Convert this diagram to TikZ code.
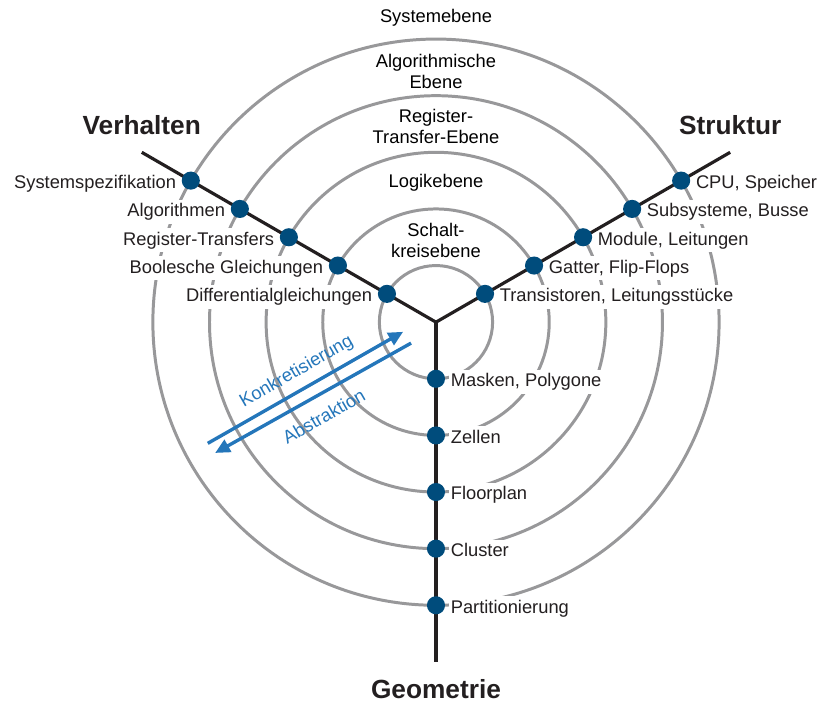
\documentclass[tikz,border=0pt]{standalone}
\usepackage{fontspec}
\setmainfont{Liberation Sans}
\usetikzlibrary{arrows.meta,positioning}
\definecolor{ringgray}{RGB}{152,152,154}
\definecolor{axisblack}{RGB}{35,31,32}
\definecolor{dotblue}{RGB}{0,76,124}
\definecolor{flowblue}{RGB}{36,118,186}

\begin{document}
\begin{tikzpicture}[
  font=\fontsize{9.2}{10.6}\selectfont,
  ring/.style={draw=ringgray, line width=1.5pt},
  axisline/.style={draw=axisblack, line width=1.6pt, line join=miter},
  level/.style={align=center, inner sep=0pt},
  view/.style={font=\fontsize{13.2}{15}\selectfont\bfseries, text=axisblack, inner sep=0pt},
  lab/.style={fill=white, inner sep=1pt, text=axisblack, text height=0.75em, text depth=0.25em, yshift=-0.05cm},
  flow/.style={-{Triangle[length=2.6mm,width=2.4mm]}, draw=flowblue, line width=1.7pt},
  flowtext/.style={text=flowblue, rotate=30, inner sep=0pt}
]
\useasboundingbox (-7.70,-6.695) rectangle (6.80,5.69);
% axes and points on the rings
\coordinate (O) at (0,0);
\coordinate (vEnd) at (150:6);
\coordinate (sEnd) at (30:6);
\coordinate (gEnd) at (270:6);
\coordinate (b1) at (150:1);
\coordinate (b2) at (150:2);
\coordinate (b3) at (150:3);
\coordinate (b4) at (150:4);
\coordinate (b5) at (150:5);
\coordinate (s1) at (30:1);
\coordinate (s2) at (30:2);
\coordinate (s3) at (30:3);
\coordinate (s4) at (30:4);
\coordinate (s5) at (30:5);
\coordinate (g1) at (270:1);
\coordinate (g2) at (270:2);
\coordinate (g3) at (270:3);
\coordinate (g4) at (270:4);
\coordinate (g5) at (270:5);
% rings
\draw[ring] (O) circle (1);
\draw[ring] (O) circle (2);
\draw[ring] (O) circle (3);
\draw[ring] (O) circle (4);
\draw[ring] (O) circle (5);
% level names
\node[level] (sysLvl) at (0,5.37) {Systemebene};
\node[level] (algLvl) at (0,4.43) {Algorithmische\\Ebene};
\node[level] (rtLvl) at (0,3.46) {Register-\\Transfer-Ebene};
\node[level] (logLvl) at (0,2.47) {Logikebene};
\node[level] (cktLvl) at (0,1.45) {Schalt-\\kreisebene};
% concretion / abstraction
\coordinate (kStart) at (-4.03,-2.14);
\coordinate (kEnd) at (-0.58,-0.17);
\coordinate (aStart) at (-0.44,-0.37);
\coordinate (aEnd) at (-3.90,-2.31);
\draw[flow] (kStart) -- (kEnd);
\draw[flow] (aStart) -- (aEnd);
\node[flowtext] (konkr) at (-2.46,-0.88) {Konkretisierung};
\node[flowtext] (abstr) at (-1.98,-1.66) {Abstraktion};
% behaviour
\node[lab, left=0.22cm of b5] (bSys) {Systemspezifikation};
\node[lab, left=0.22cm of b4] (bAlg) {Algorithmen};
\node[lab, left=0.22cm of b3] (bRt) {Register-Transfers};
\node[lab, left=0.22cm of b2] (bBool) {Boolesche Gleichungen};
\node[lab, left=0.22cm of b1] (bDiff) {Differentialgleichungen};
% structure
\node[lab, right=0.22cm of s5] (sCpu) {CPU, Speicher};
\node[lab, right=0.22cm of s4] (sSub) {Subsysteme, Busse};
\node[lab, right=0.22cm of s3] (sMod) {Module, Leitungen};
\node[lab, right=0.22cm of s2] (sGat) {Gatter, Flip-Flops};
\node[lab, right=0.22cm of s1] (sTra) {Transistoren, Leitungsstücke};
% geometry
\node[lab, right=0.22cm of g1] (gMask) {Masken, Polygone};
\node[lab, right=0.22cm of g2] (gZell) {Zellen};
\node[lab, right=0.22cm of g3] (gFloor) {Floorplan};
\node[lab, right=0.22cm of g4] (gClus) {Cluster};
\node[lab, right=0.22cm of g5] (gPart) {Partitionierung};
% the Y
\draw[axisline] (vEnd) -- (O) -- (sEnd);
\draw[axisline] (O) -- (gEnd);
\fill[dotblue] (b1) circle (0.16) (b2) circle (0.16) (b3) circle (0.16) (b4) circle (0.16) (b5) circle (0.16);
\fill[dotblue] (s1) circle (0.16) (s2) circle (0.16) (s3) circle (0.16) (s4) circle (0.16) (s5) circle (0.16);
\fill[dotblue] (g1) circle (0.16) (g2) circle (0.16) (g3) circle (0.16) (g4) circle (0.16) (g5) circle (0.16);
\node[view, above=0.3cm of vEnd] (verh) {Verhalten};
\node[view, above=0.3cm of sEnd] (strk) {Struktur};
\node[view, below=0.3cm of gEnd] (geom) {Geometrie};
\end{tikzpicture}
\end{document}
